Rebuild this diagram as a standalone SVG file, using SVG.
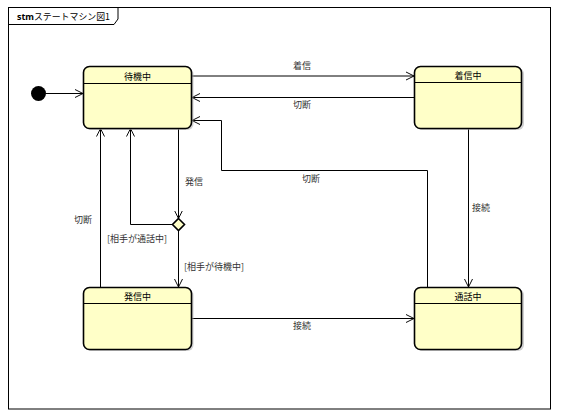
<svg xmlns="http://www.w3.org/2000/svg" width="561" height="418" viewBox="0 0 561 418">
<defs>
<style>
.frame{fill:none;stroke:#000;stroke-width:1}
.shadow{fill:#b0b0b0;opacity:0.6}
.state{fill:#ffffc8;stroke:#000;stroke-width:1.6}
.div{stroke:#000;stroke-width:1}
.name{font-family:"Noto Sans CJK JP","Noto Sans",sans-serif;font-size:9px;fill:#000;text-anchor:middle}
.lbl{font-family:"Noto Sans CJK JP","Noto Sans",sans-serif;font-size:9px;fill:#333}
.edge{fill:none;stroke:#000;stroke-width:1}
</style>
<marker id="arr" viewBox="0 0 10 10" refX="10" refY="5" markerWidth="8" markerHeight="10" markerUnits="userSpaceOnUse" orient="auto">
<path d="M0,0 L10,5 L0,10" fill="none" stroke="#000" stroke-width="1.2"/>
</marker>
</defs>
<rect x="0" y="0" width="561" height="418" fill="#fff"/>
<g id="frame">
<rect class="frame" x="8.5" y="7.5" width="542" height="401.5"/>
<path class="frame" d="M8.5,24.5 H114 L118,19 V7.5"/>
<text x="17" y="20" font-family="'Noto Sans','Noto Sans CJK JP',sans-serif" font-size="9px" fill="#000" textLength="93" lengthAdjust="spacingAndGlyphs"><tspan font-weight="bold">stm</tspan><tspan font-family="'Noto Sans CJK JP',sans-serif">ステートマシン図1</tspan></text>
</g>
<g id="connectors">
<path class="edge" d="M46,93.5 H83" marker-end="url(#arr)"/>
<path class="edge" d="M192,76 H414" marker-end="url(#arr)"/>
<path class="edge" d="M414,97.5 H192" marker-end="url(#arr)"/>
<path class="edge" d="M427.5,287 V170.5 H221.5 V120.5 H192" marker-end="url(#arr)"/>
<path class="edge" d="M468.5,128.5 V287" marker-end="url(#arr)"/>
<path class="edge" d="M192,318.5 H414" marker-end="url(#arr)"/>
<path class="edge" d="M178.5,128.5 V218.5" marker-end="url(#arr)"/>
<path class="edge" d="M172.5,224.5 H130.5 V128.5" marker-end="url(#arr)"/>
<path class="edge" d="M178.5,230.5 V287" marker-end="url(#arr)"/>
<path class="edge" d="M100.5,287 V128.5" marker-end="url(#arr)"/>
<text class="lbl" x="293" y="69">着信</text>
<text class="lbl" x="293" y="108">切断</text>
<text class="lbl" x="302" y="182">切断</text>
<text class="lbl" x="472" y="211">接続</text>
<text class="lbl" x="293" y="329">接続</text>
<text class="lbl" x="185" y="185">発信</text>
<text class="lbl" x="74" y="223">切断</text>
<text class="lbl" x="107" y="242">[相手が通話中]</text>
<text class="lbl" x="184" y="270">[相手が待機中]</text>
</g>
<g id="initial">
<circle cx="38.5" cy="93.5" r="7.5" fill="#000"/>
</g>
<g id="decision">
<path d="M178.5,218.5 L184.5,224.5 L178.5,230.5 L172.5,224.5 Z" fill="#ffffc8" stroke="#000" stroke-width="1.6"/>
</g>
<g id="taikichu">
<rect class="shadow" x="85" y="68" width="108.5" height="62" rx="6"/>
<rect class="state" x="83.5" y="66.5" width="108" height="62" rx="6"/>
<line class="div" x1="83.5" y1="83.5" x2="191.5" y2="83.5"/>
<text class="name" x="137.5" y="79.5">待機中</text>
</g>
<g id="chakushinchu">
<rect class="shadow" x="416" y="68" width="108" height="62" rx="6"/>
<rect class="state" x="414.5" y="66.5" width="107" height="62" rx="6"/>
<line class="div" x1="414.5" y1="82.5" x2="521.5" y2="82.5"/>
<text class="name" x="468" y="79">着信中</text>
</g>
<g id="hasshinchu">
<rect class="shadow" x="85" y="289" width="108.5" height="62" rx="6"/>
<rect class="state" x="83.5" y="287.5" width="108" height="62" rx="6"/>
<line class="div" x1="83.5" y1="303.5" x2="191.5" y2="303.5"/>
<text class="name" x="137.5" y="300">発信中</text>
</g>
<g id="tsuwachu">
<rect class="shadow" x="416" y="289" width="108" height="62" rx="6"/>
<rect class="state" x="414.5" y="287.5" width="107" height="62" rx="6"/>
<line class="div" x1="414.5" y1="303.5" x2="521.5" y2="303.5"/>
<text class="name" x="468" y="300">通話中</text>
</g>
</svg>
